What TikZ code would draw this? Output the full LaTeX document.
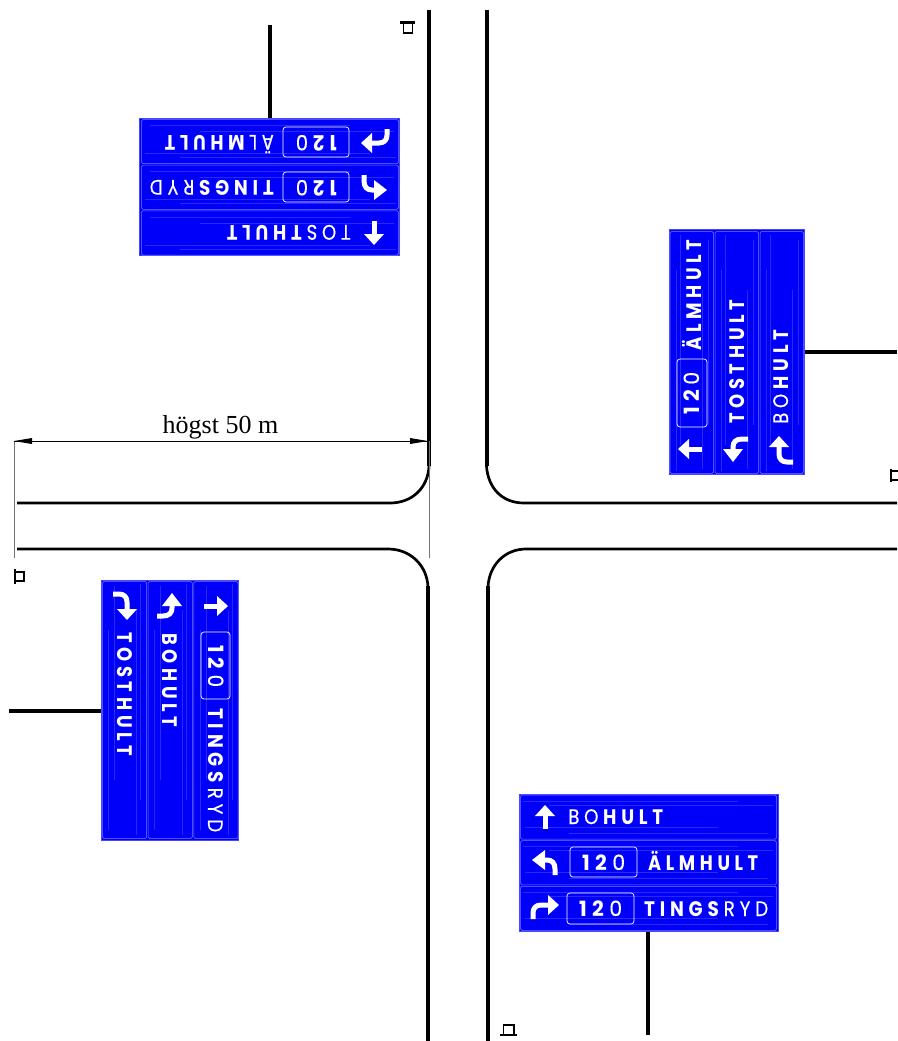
\documentclass[tikz,border=0pt]{standalone}
\usepackage{fontspec}
\usepackage{graphicx}
\setmainfont{Liberation Serif}
\newfontfamily\signfont[LetterSpace=26,FakeBold=0.4,BoldFont={Poppins Bold},BoldFeatures={FakeBold=0}]{Poppins}
\definecolor{signblue}{RGB}{0,0,250}
\definecolor{signedge}{RGB}{70,70,255}
\definecolor{signline}{RGB}{120,120,255}
\definecolor{signstreak}{RGB}{40,40,255}
\tikzset{
  road/.style={line width=2.7pt,black,line join=round},
  roadthick/.style={line width=4pt,black},
  polebar/.style={line width=4pt,black},
  thinline/.style={line width=0.8pt,black!55},
  dimline/.style={line width=0.6pt,black},
  arrowbody/.style={white,line width=5pt,line join=round},
  signtxt/.style={inner sep=0pt,anchor=base west,transform shape,white,font=\signfont\fontsize{21}{21}\selectfont},
  plate/.style={white,line width=0.7pt,rounded corners=3pt},
  panel/.style={signline,line width=0.5pt,rounded corners=1.5pt},
  streak/.style={signstreak,line width=0.4pt},
  squaremark/.style={black,line width=1.3pt},
  squarebar/.style={black,line width=2.2pt},
}
% local pictures of the sign arrows; origin at the head base
\newcommand{\arrowstraight}[2]{%
  \begin{scope}[shift={(#1,#2)}]
    \fill[white] (0,-12) -- (10,-1) -- (-10,-1) -- cycle;
    \draw[arrowbody] (0,-2) -- (0,12);
  \end{scope}}
\newcommand{\arrowleft}[2]{%
  \begin{scope}[shift={(#1,#2)}]
    \fill[white] (-13,0) -- (0,-10) -- (0,10) -- cycle;
    \draw[arrowbody] (-1,0) -- (2,0) .. controls (7,0) and (10,3) .. (10,9) -- (10,15);
  \end{scope}}
\newcommand{\arrowright}[2]{%
  \begin{scope}[shift={(#1,#2)}]
    \fill[white] (11,0) -- (0,-10) -- (0,10) -- cycle;
    \draw[arrowbody] (1,0) -- (-7,0) .. controls (-12,0) and (-15,3) .. (-15,8) -- (-15,14);
  \end{scope}}
% name, x, baseline, width, text
\newcommand{\signtext}[5]{%
  \node[signtxt] (#1) at (#2,#3) {\resizebox{#4pt}{\height}{#5}};}
% panel outlines and streaks: length, height
\newcommand{\signframe}[3]{%
  \node[draw=signedge,fill=signblue,line width=0.8pt,minimum width=#2pt,minimum height=#3pt,inner sep=0pt,transform shape,anchor=north west] (#1) at (0,0) {};
  \pgfmathsetmacro{\rowh}{#3/3}
  \foreach \r in {0,1,2}{
    \draw[streak] (4,{\r*\rowh+7}) -- (#2-40,{\r*\rowh+7});
    \draw[streak] (30,{\r*\rowh+11}) -- (#2-5,{\r*\rowh+11});
    \draw[streak] (6,{\r*\rowh+33}) -- (#2-60,{\r*\rowh+33});
    \draw[streak] (50,{\r*\rowh+39}) -- (#2-10,{\r*\rowh+39});
    \draw[panel] (1.5,{\r*\rowh+1}) rectangle (#2-1.5,{\r*\rowh+\rowh-0.5});
  }}
\newcommand{\bo}[1]{{\bfseries #1}}
\newcommand{\sk}{\kern .26em\relax}
\begin{document}
\begin{tikzpicture}[x=1pt,y=-1pt]
\useasboundingbox (0,0) rectangle (897,1041);

% roads
\draw[roadthick] (429,10) -- (429,466);
\draw[road] (429,466) .. controls (428,488) and (412,503) .. (390,503) -- (17,503);
\draw[roadthick] (486.5,10) -- (486.5,466);
\draw[road] (486.5,466) .. controls (488,488) and (502,503) .. (524,503) -- (897,503);
\draw[road] (17,549) -- (388,549) .. controls (410,549) and (427,565) .. (428,587);
\draw[roadthick] (428,586) -- (428,1041);
\draw[road] (897,549) -- (526,549) .. controls (505,549) and (489,565) .. (488,587);
\draw[roadthick] (488,586) -- (488,1041);

% dimension
\coordinate (dimL) at (14,441);
\coordinate (dimR) at (428,441);
\coordinate (extL) at (14,558);
\coordinate (extR) at (429,558);
\draw[thinline] (dimL) -- (extL);
\draw[thinline] (429,441) -- (extR);
\draw[dimline] (dimL) -- (dimR);
\fill[black] (dimL) -- (32,438) -- (32,444) -- cycle;
\fill[black] (dimR) -- (410,438) -- (410,444) -- cycle;
\node[inner sep=0pt,font=\fontsize{26}{26}\selectfont] (dimtext) at (220.5,427) {högst 50 m};

% square marks
\draw[squaremark] (403.5,23.5) rectangle (412.5,33);
\draw[squarebar] (400,22.5) -- (415,22.5);
\draw[squaremark] (15.5,572) rectangle (24,581);
\draw[squarebar] (15,569) -- (15,584);
\draw[squaremark] (503.5,1025) rectangle (514,1034.5);
\draw[squarebar] (500,1035) -- (517,1035);
\draw[squaremark] (891,471) rectangle (900,480);
\draw[squarebar] (891,469) -- (891,482);

% poles
\coordinate (poleB) at (648,1035);
\coordinate (poleT) at (270,25);
\coordinate (poleR) at (897,351.5);
\coordinate (poleL) at (9,711);

% bottom sign
\begin{scope}[shift={(519,794)},name prefix=b-]
  \signframe{sign}{259}{137}
  \arrowstraight{26}{23}
  \arrowleft{26}{66}
  \arrowright{29}{111}
  \draw[plate] (51,53) rectangle (118,83);
  \draw[plate] (48,99) rectangle (115,130);
  \signtext{t1}{49}{30}{95}{BO\sk\bo{HULT}}
  \signtext{t2}{63}{76}{43}{\bo{12}\sk 0}
  \signtext{t3}{129}{76}{110}{\bo{ÄLMHULT}}
  \signtext{t4}{60}{122}{43}{\bo{12}\sk 0}
  \signtext{t5}{125}{122}{124}{\bo{TINGS}\sk RYD}
\end{scope}

% top sign
\begin{scope}[shift={(400,256)},rotate=180,name prefix=t-]
  \signframe{sign}{260}{137}
  \arrowstraight{26}{23}
  \arrowleft{26}{66}
  \arrowright{28}{113}
  \draw[plate] (51,54) rectangle (117,84);
  \draw[plate] (51,99) rectangle (117,129);
  \signtext{t1}{49}{31}{124}{TOS\sk\bo{THULT}}
  \signtext{t2}{63}{76}{41}{\bo{12}\sk 0}
  \signtext{t3}{126}{76}{124}{\bo{TINGS}\sk RYD}
  \signtext{t4}{63}{121}{41}{\bo{12}\sk 0}
  \signtext{t5}{126}{121}{109}{ÄL\sk\bo{MHULT}}
\end{scope}

% right sign
\begin{scope}[shift={(669,475)},rotate=90,name prefix=r-]
  \signframe{sign}{245}{135}
  \arrowstraight{26}{21}
  \arrowleft{26}{64}
  \arrowright{28}{110}
  \draw[plate] (48,8) rectangle (116,38);
  \signtext{t1}{60}{30}{43}{\bo{12}\sk 0}
  \signtext{t2}{124}{32}{111}{\bo{ÄLMHULT}}
  \signtext{t3}{51}{75}{124}{\bo{TOSTHULT}}
  \signtext{t4}{51}{119}{94}{BO\sk\bo{HULT}}
\end{scope}

% left sign
\begin{scope}[shift={(239,580)},rotate=-90,name prefix=l-]
  \signframe{sign}{260}{137}
  \arrowstraight{26}{23}
  \arrowleft{26}{67}
  \arrowright{29}{112}
  \draw[plate] (52,9) rectangle (119,38);
  \signtext{t1}{65}{31}{42}{\bo{12}\sk 0}
  \signtext{t2}{128}{31}{124}{\bo{TINGS}\sk RYD}
  \signtext{t3}{53}{77}{94}{\bo{BOHULT}}
  \signtext{t4}{52}{122}{124}{\bo{TOSTHULT}}
\end{scope}

% pole connectors
\draw[polebar] (poleB) -- (poleB |- b-sign.south);
\draw[polebar] (poleT) -- (poleT |- t-sign.south);
\draw[polebar] (poleR) -- (poleR -| r-sign.south);
\draw[polebar] (poleL) -- (poleL -| l-sign.south);
\end{tikzpicture}
\end{document}
